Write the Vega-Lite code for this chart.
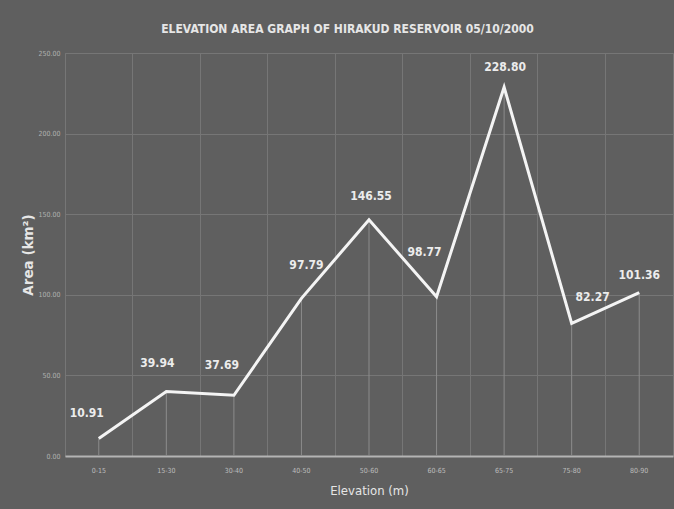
{
  "$schema": "https://vega.github.io/schema/vega-lite/v6.json",
  "autosize": {"type": "none"},
  "width": 608,
  "height": 403,
  "padding": {"left": 65, "top": 53, "right": 1, "bottom": 53},
  "background": "#5f5f5f",
  "title": {
    "text": "ELEVATION AREA GRAPH OF HIRAKUD RESERVOIR 05/10/2000",
    "font": "DejaVu Sans Condensed",
    "fontSize": 12,
    "fontWeight": "bold",
    "color": "#e6e6e6",
    "anchor": "middle",
    "frame": "bounds",
    "offset": 13
  },
  "data": {
    "values": [
      {"elev": "0-15", "area": 10.91},
      {"elev": "15-30", "area": 39.94},
      {"elev": "30-40", "area": 37.69},
      {"elev": "40-50", "area": 97.79},
      {"elev": "50-60", "area": 146.55},
      {"elev": "60-65", "area": 98.77},
      {"elev": "65-75", "area": 228.8},
      {"elev": "75-80", "area": 82.27},
      {"elev": "80-90", "area": 101.36}
    ]
  },
  "encoding": {
    "x": {
      "field": "elev",
      "type": "ordinal",
      "sort": null,
      "scale": {"paddingInner": 0, "paddingOuter": 0},
      "axis": {
        "title": "Elevation (m)",
        "labelAngle": 0,
        "bandPosition": 0,
        "grid": true,
        "gridColor": "#767676",
        "gridWidth": 1,
        "ticks": false,
        "tickSize": 0,
        "labelPadding": 10,
        "labelFontSize": 7,
        "labelColor": "#bdbdbd",
        "labelFont": "DejaVu Sans Condensed",
        "domainColor": "#b4b4b4",
        "domainWidth": 2,
        "titleFont": "DejaVu Sans Condensed",
        "titleFontSize": 13,
        "titleFontWeight": "normal",
        "titleColor": "#e6e6e6",
        "titlePadding": 11
      }
    },
    "y": {
      "field": "area",
      "type": "quantitative",
      "scale": {"domain": [0, 250], "nice": false},
      "axis": {
        "title": "Area (km²)",
        "values": [0, 50, 100, 150, 200, 250],
        "format": ".2f",
        "grid": true,
        "gridColor": "#767676",
        "gridWidth": 1,
        "domain": false,
        "ticks": false,
        "tickSize": 0,
        "labelPadding": 5,
        "labelFontSize": 7,
        "labelColor": "#b0b0b0",
        "labelFont": "DejaVu Sans Condensed",
        "titleFont": "DejaVu Sans",
        "titleFontSize": 13.5,
        "titleFontWeight": "bold",
        "titleColor": "#e6e6e6",
        "titlePadding": 2
      }
    }
  },
  "layer": [
    {
      "mark": {"type": "rule", "color": "#8c8c8c", "strokeWidth": 1},
      "encoding": {"y2": {"datum": 0}}
    },
    {
      "mark": {"type": "line", "color": "#f4f4f4", "strokeWidth": 3, "strokeJoin": "miter"}
    },
    {
      "transform": [{"filter": "datum.elev == '0-15'"}],
      "mark": {"type": "text", "dx": -12, "dy": -25},
      "encoding": {"text": {"field": "area", "type": "quantitative", "format": ".2f"}}
    },
    {
      "transform": [{"filter": "datum.elev == '15-30'"}],
      "mark": {"type": "text", "dx": -9, "dy": -29},
      "encoding": {"text": {"field": "area", "type": "quantitative", "format": ".2f"}}
    },
    {
      "transform": [{"filter": "datum.elev == '30-40'"}],
      "mark": {"type": "text", "dx": -12, "dy": -30},
      "encoding": {"text": {"field": "area", "type": "quantitative", "format": ".2f"}}
    },
    {
      "transform": [{"filter": "datum.elev == '40-50'"}],
      "mark": {"type": "text", "dx": 5, "dy": -33},
      "encoding": {"text": {"field": "area", "type": "quantitative", "format": ".2f"}}
    },
    {
      "transform": [{"filter": "datum.elev == '50-60'"}],
      "mark": {"type": "text", "dx": 2, "dy": -24},
      "encoding": {"text": {"field": "area", "type": "quantitative", "format": ".2f"}}
    },
    {
      "transform": [{"filter": "datum.elev == '60-65'"}],
      "mark": {"type": "text", "dx": -12, "dy": -45},
      "encoding": {"text": {"field": "area", "type": "quantitative", "format": ".2f"}}
    },
    {
      "transform": [{"filter": "datum.elev == '65-75'"}],
      "mark": {"type": "text", "dx": 1, "dy": -20},
      "encoding": {"text": {"field": "area", "type": "quantitative", "format": ".2f"}}
    },
    {
      "transform": [{"filter": "datum.elev == '75-80'"}],
      "mark": {"type": "text", "dx": 21, "dy": -26},
      "encoding": {"text": {"field": "area", "type": "quantitative", "format": ".2f"}}
    },
    {
      "transform": [{"filter": "datum.elev == '80-90'"}],
      "mark": {"type": "text", "dx": 0, "dy": -18},
      "encoding": {"text": {"field": "area", "type": "quantitative", "format": ".2f"}}
    }
  ],
  "config": {
    "view": {"stroke": "#767676", "strokeWidth": 1},
    "text": {
      "font": "DejaVu Sans Condensed",
      "fontSize": 12,
      "fontWeight": "bold",
      "color": "#ececec",
      "baseline": "middle",
      "align": "center"
    }
  }
}
